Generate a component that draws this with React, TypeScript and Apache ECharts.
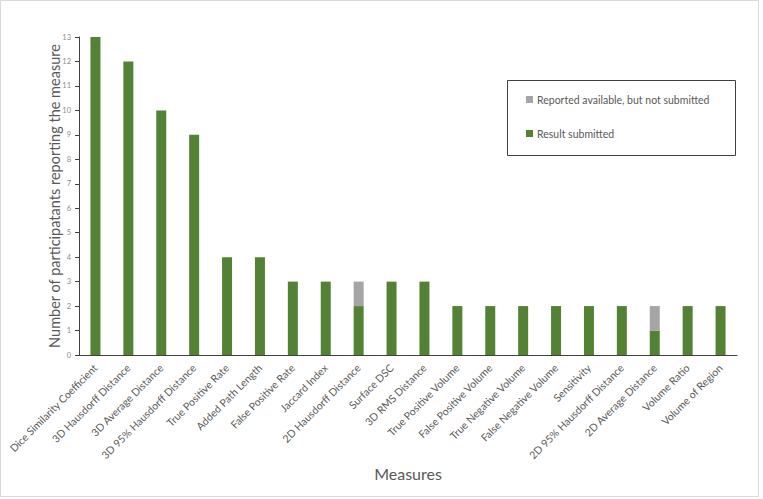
import React, { useEffect, useRef } from "react";
import * as echarts from "echarts";

const categories = [
  "Dice Similarity Coefficient",
  "3D Hausdorff Distance",
  "3D Average Distance",
  "3D 95% Hausdorff Distance",
  "True Positive Rate",
  "Added Path Length",
  "False Positive Rate",
  "Jaccard Index",
  "2D Hausdorff Distance",
  "Surface DSC",
  "3D RMS Distance",
  "True Positive Volume",
  "False Positive Volume",
  "True Negative Volume",
  "False Negative Volume",
  "Sensitivity",
  "2D 95% Hausdorff Distance",
  "2D Average Distance",
  "Volume Ratio",
  "Volume of Region",
];

const resultSubmitted = [13, 12, 10, 9, 4, 4, 3, 3, 2, 3, 3, 2, 2, 2, 2, 2, 2, 1, 2, 2];
const reportedNotSubmitted = [0, 0, 0, 0, 0, 0, 0, 0, 1, 0, 0, 0, 0, 0, 0, 0, 0, 1, 0, 0];

const FONT = "Lato";

export default function App() {
  const ref = useRef<HTMLDivElement>(null);
  useEffect(() => {
    if (!ref.current) return;
    const chart = echarts.init(ref.current, null, { renderer: "svg" });
    chart.setOption({
      animation: false,
      backgroundColor: "#ffffff",
      textStyle: { fontFamily: FONT },
      grid: { left: 79, right: 26, top: 37, bottom: 144, containLabel: false },
      legend: {
        orient: "vertical",
        left: 521,
        top: 89,
        itemGap: 23,
        itemWidth: 7,
        itemHeight: 7,
        icon: "rect",
        data: ["Reported available, but not submitted", "Result submitted"],
        textStyle: { fontFamily: FONT, fontSize: 10.5, color: "#595959", padding: [0, 0, 0, -1] },
      },
      xAxis: {
        type: "category",
        data: categories,
        name: "Measures",
        nameLocation: "middle",
        nameGap: 110,
        nameMoveOverlap: false,
        nameTextStyle: { fontFamily: FONT, fontSize: 16, color: "#595959" },
        axisLine: { lineStyle: { color: "#404040", width: 1 } },
        axisTick: { show: false },
        axisLabel: {
          rotate: 45,
          interval: 0,
          fontFamily: FONT,
          fontSize: 10.5,
          color: "#595959",
          margin: 11,
        },
      },
      yAxis: {
        type: "value",
        min: 0,
        max: 13,
        interval: 1,
        name: "Number of participatants reporting the measure",
        nameLocation: "middle",
        nameGap: 17,
        nameMoveOverlap: false,
        nameTextStyle: { fontFamily: FONT, fontSize: 14.5, color: "#595959" },
        splitLine: { show: false },
        axisLine: { show: true, lineStyle: { color: "#404040", width: 1 } },
        axisTick: { show: true, length: 4, lineStyle: { color: "#404040" } },
        axisLabel: { fontFamily: FONT, fontSize: 7.5, color: "#8c8c8c", margin: 8 },
      },
      series: [
        {
          name: "Result submitted",
          type: "bar",
          stack: "total",
          data: resultSubmitted,
          barWidth: 10,
          itemStyle: { color: "#548235" },
        },
        {
          name: "Reported available, but not submitted",
          type: "bar",
          stack: "total",
          data: reportedNotSubmitted,
          barWidth: 10,
          itemStyle: { color: "#a5a5a5" },
        },
      ],
      graphic: [
        {
          type: "rect",
          shape: { x: 0.5, y: 0.5, width: 758, height: 496 },
          style: { fill: "none", stroke: "#d9d9d9", lineWidth: 1 },
          silent: true,
        },
        {
          type: "rect",
          shape: { x: 507.5, y: 80.5, width: 228, height: 75 },
          style: { fill: "none", stroke: "#404040", lineWidth: 1 },
          silent: true,
        },
      ],
    });
    return () => chart.dispose();
  }, []);
  return (
    <div
      ref={ref}
      style={{ position: "fixed", left: 0, top: 0, width: 763, height: 499 }}
    />
  );
}
